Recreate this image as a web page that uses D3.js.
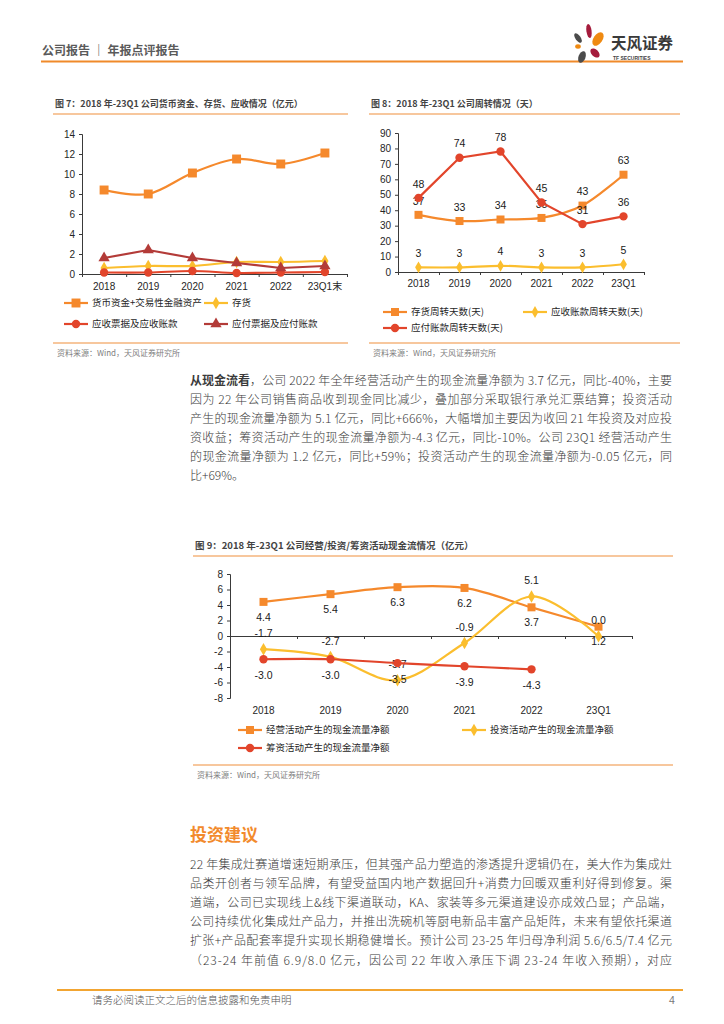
<!DOCTYPE html>
<html>
<head>
<meta charset="utf-8">
<script src="https://cdn.jsdelivr.net/npm/d3@7"></script>
<style>
body { margin: 0; background: #fff; }
svg { display: block; font-family: "Liberation Sans", Arial, "Noto Sans CJK SC", sans-serif; }
.cn { font-family: "Noto Sans CJK SC", sans-serif; }
</style>
</head>
<body>
<svg id="page" width="724" height="1024"></svg>
<script>
// ---- data ----
const cats7 = ['2018', '2019', '2020', '2021', '2022', '23Q1末'];
const cash7 = [8.4, 8.0, 10.1, 11.5, 11.0, 12.1];
const inventory7 = [0.6, 0.8, 0.8, 1.2, 1.2, 1.3];
const receivable7 = [0.15, 0.15, 0.3, 0.1, 0.15, 0.2];
const payable7 = [1.6, 2.4, 1.6, 1.1, 0.6, 0.8];
const ticks7 = [0, 2, 4, 6, 8, 10, 12, 14];

const cats8 = ['2018', '2019', '2020', '2021', '2022', '23Q1'];
const invDays8 = [37, 33, 34, 35, 43, 63];
const recDays8 = [3, 3, 4, 3, 3, 5];
const payDays8 = [48, 74, 78, 45, 31, 36];
const ticks8 = [0, 10, 20, 30, 40, 50, 60, 70, 80, 90];

const cats9 = ['2018', '2019', '2020', '2021', '2022', '23Q1'];
const opCash9 = [4.4, 5.4, 6.3, 6.2, 3.7, 1.2];
const invCash9 = [-1.7, -2.7, -5.7, -0.9, 5.1, -0.04];
const finCash9 = [-3.0, -3.0, -3.5, -3.9, -4.3, null];
const ticks9 = [-8, -6, -4, -2, 0, 2, 4, 6, 8];

const para1Lead = '从现金流看';
const para1 = [
  '，公司 2022 年全年经营活动产生的现金流量净额为 3.7 亿元，同比-40%，主要',
  '因为 22 年公司销售商品收到现金同比减少，叠加部分采取银行承兑汇票结算；投资活动',
  '产生的现金流量净额为 5.1 亿元，同比+666%，大幅增加主要因为收回 21 年投资及对应投',
  '资收益；筹资活动产生的现金流量净额为-4.3 亿元，同比-10%。公司 23Q1 经营活动产生',
  '的现金流量净额为 1.2 亿元，同比+59%；投资活动产生的现金流量净额为-0.05 亿元，同',
  '比+69%。'
];
const para2 = [
  '22 年集成灶赛道增速短期承压，但其强产品力塑造的渗透提升逻辑仍在，美大作为集成灶',
  '品类开创者与领军品牌，有望受益国内地产数据回升+消费力回暖双重利好得到修复。渠',
  '道端，公司已实现线上&线下渠道联动，KA、家装等多元渠道建设亦成效凸显；产品端，',
  '公司持续优化集成灶产品力，并推出洗碗机等厨电新品丰富产品矩阵，未来有望依托渠道',
  '扩张+产品配套率提升实现长期稳健增长。预计公司 23-25 年归母净利润 5.6/6.5/7.4 亿元',
  '（23-24 年前值 6.9/8.0 亿元，因公司 22 年收入承压下调 23-24 年收入预期），对应'
];

const ORANGE = '#F5892C', YELLOW = '#FBBE2E', RED = '#E2452B', DARKRED = '#B33B38';
const locale = d3.formatLocale({decimal: '.', thousands: ',', grouping: [3], currency: ['', ''], minus: '-'});
const fmtInt = locale.format('d');
const fmt1 = locale.format('.1f');

const svg = d3.select('#page');
svg.append('rect').attr('width', 724).attr('height', 1024).attr('fill', '#fff');

// ---- page header ----
svg.append('text').attr('class', 'cn').attr('x', 42).attr('y', 55)
  .attr('font-size', 12).attr('font-weight', 'bold').attr('fill', '#5a5a5a')
  .text('公司报告 ｜ 年报点评报告');
svg.append('line').attr('x1', 41).attr('x2', 683).attr('y1', 61.5).attr('y2', 61.5)
  .attr('stroke', '#F08A2A').attr('stroke-width', 2.2);

const logo = svg.append('g');
[
  [589, 31, 2.6, 7, -8, '#A51C3C'],
  [578, 38, 2.6, 5.5, -35, '#4B4B4B'],
  [598, 39, 4.5, 7.5, 35, '#EF8A12'],
  [578, 46.5, 2.8, 2.2, 0, '#EF8A12'],
  [595, 53, 3.5, 5.5, -45, '#A51C3C'],
  [582, 57, 3.5, 6, 20, '#4B4B4B']
].forEach(p => {
  logo.append('ellipse').attr('rx', p[2]).attr('ry', p[3])
    .attr('transform', `translate(${p[0]},${p[1]}) rotate(${p[4]})`).attr('fill', p[5]);
});
logo.append('text').attr('class', 'cn').attr('x', 611).attr('y', 49)
  .attr('font-size', 15.5).attr('font-weight', 'bold').attr('fill', '#3a3a3a').text('天风证券');
logo.append('text').attr('x', 613).attr('y', 59.5)
  .attr('font-size', 5).attr('font-weight', 'bold').attr('fill', '#444').text('TF SECURITIES');

// ---- chart helper ----
function drawChart(o) {
  const g = svg.append('g');

  // title and frame rules
  g.append('text').attr('class', 'cn').attr('x', o.frame[0] + 2).attr('y', o.titleY)
    .attr('font-size', o.titleSize).attr('font-weight', 'bold').attr('fill', '#444').text(o.title);
  [o.titleY + 7, o.ruleBottom].forEach(yy => {
    g.append('line').attr('x1', o.frame[0]).attr('x2', o.frame[1]).attr('y1', yy).attr('y2', yy)
      .attr('stroke', '#F7C79D').attr('stroke-width', 2);
  });
  g.append('text').attr('class', 'cn').attr('x', o.frame[0] + 4).attr('y', o.ruleBottom + 13)
    .attr('font-size', 8).attr('fill', '#808080').text('资料来源：Wind，天风证券研究所');

  const x = d3.scaleBand().domain(o.cats).range([o.left, o.right]);
  const cx = c => x(c) + x.bandwidth() / 2;
  const y = d3.scaleLinear().domain(o.domain).range([o.bottom, o.top]);

  // y axis
  g.append('g').attr('transform', `translate(${o.left},0)`)
    .call(d3.axisLeft(y).tickValues(o.ticks).tickSize(3).tickPadding(4).tickFormat(fmtInt))
    .call(a => a.selectAll('text').attr('font-size', 10).attr('fill', '#262626'));

  // x axis line with boundary ticks
  const xb = d3.scaleLinear().domain([0, o.cats.length]).range([o.left, o.right]);
  g.append('g').attr('transform', `translate(0,${y(0)})`)
    .call(d3.axisBottom(xb).tickValues(d3.range(o.cats.length + 1)).tickSize(3).tickSizeOuter(0).tickFormat(''));

  // category labels
  g.append('g').attr('transform', `translate(0,${o.labelY})`)
    .call(d3.axisBottom(x).tickSize(0).tickPadding(0))
    .call(a => a.select('.domain').remove())
    .call(a => a.selectAll('text').attr('font-size', 10).attr('fill', '#262626')
      .attr('dy', '0.35em').attr('font-family', '"Liberation Sans", Arial, "Noto Sans CJK SC", sans-serif'));

  g.selectAll('.domain, .tick line').attr('stroke', '#3a3a3a');

  o.series.forEach(s => {
    const line = d3.line()
      .defined(d => d != null)
      .x((d, i) => cx(o.cats[i]))
      .y(d => y(d))
      .curve(s.smooth ? d3.curveCardinal.tension(0) : d3.curveLinear);
    g.append('path').datum(s.values).attr('d', line)
      .attr('fill', 'none').attr('stroke', s.color).attr('stroke-width', 2.2);

    const sym = d3.symbol().type(s.symbol).size(s.size);
    g.selectAll(null).data(s.values.map((v, i) => ({v, c: o.cats[i]})).filter(d => d.v != null))
      .enter().append('path')
      .attr('d', sym)
      .attr('transform', d => `translate(${cx(d.c)},${y(d.v)})`)
      .attr('fill', s.color);

    if (s.labelDy) {
      g.selectAll(null).data(s.values.map((v, i) => ({v, c: o.cats[i]})).filter(d => d.v != null))
        .enter().append('text')
        .attr('x', d => cx(d.c))
        .attr('y', d => y(d.v) + s.labelDy)
        .attr('dy', '0.35em')
        .attr('text-anchor', 'middle')
        .attr('font-size', 10.5)
        .attr('fill', '#1a1a1a')
        .text(d => s.fmt(d.v));
    }
  });

  // legend
  o.legend.forEach(l => {
    const s = o.series[l.i];
    g.append('line').attr('x1', l.x).attr('x2', l.x + 24).attr('y1', l.y).attr('y2', l.y)
      .attr('stroke', s.color).attr('stroke-width', 2.2);
    g.append('path').attr('d', d3.symbol().type(s.symbol).size(s.size)())
      .attr('transform', `translate(${l.x + 12},${l.y})`).attr('fill', s.color);
    g.append('text').attr('class', 'cn').attr('x', l.x + 28).attr('y', l.y)
      .attr('dy', '0.35em').attr('font-size', o.legendSize).attr('fill', '#262626').text(s.name);
  });
}

// ---- 图 7 ----
drawChart({
  title: '图 7：2018 年-23Q1 公司货币资金、存货、应收情况（亿元）', titleSize: 9,
  frame: [53, 348], titleY: 107, ruleBottom: 343,
  cats: cats7, domain: [0, 14], ticks: ticks7,
  left: 82, right: 347, top: 134, bottom: 274, labelY: 286,
  legendSize: 9.5,
  series: [
    {name: '货币资金+交易性金融资产', values: cash7, color: ORANGE, symbol: d3.symbolSquare, size: 80, smooth: true},
    {name: '存货', values: inventory7, color: YELLOW, symbol: d3.symbolDiamond, size: 45, smooth: true},
    {name: '应收票据及应收账款', values: receivable7, color: RED, symbol: d3.symbolCircle, size: 55, smooth: true},
    {name: '应付票据及应付账款', values: payable7, color: DARKRED, symbol: d3.symbolTriangle, size: 55, smooth: false}
  ],
  legend: [{i: 0, x: 64, y: 303}, {i: 1, x: 204, y: 303}, {i: 2, x: 64, y: 324}, {i: 3, x: 204, y: 324}]
});

// ---- 图 8 ----
drawChart({
  title: '图 8：2018 年-23Q1 公司周转情况（天）', titleSize: 9,
  frame: [369, 680], titleY: 107, ruleBottom: 343,
  cats: cats8, domain: [0, 90], ticks: ticks8,
  left: 398, right: 644, top: 133, bottom: 272, labelY: 283,
  legendSize: 9.5,
  series: [
    {name: '存货周转天数(天)', values: invDays8, color: ORANGE, symbol: d3.symbolSquare, size: 64, smooth: true, labelDy: -14, fmt: fmtInt},
    {name: '应收账款周转天数(天)', values: recDays8, color: YELLOW, symbol: d3.symbolDiamond, size: 40, smooth: true, labelDy: -14, fmt: fmtInt},
    {name: '应付账款周转天数(天)', values: payDays8, color: RED, symbol: d3.symbolCircle, size: 55, smooth: false, labelDy: -14, fmt: fmtInt}
  ],
  legend: [{i: 0, x: 383, y: 312}, {i: 1, x: 523, y: 312}, {i: 2, x: 383, y: 328}]
});

// ---- 图 9 ----
drawChart({
  title: '图 9：2018 年-23Q1 公司经营/投资/筹资活动现金流情况（亿元）', titleSize: 9.5,
  frame: [193, 673], titleY: 549, ruleBottom: 765,
  cats: cats9, domain: [-8, 8], ticks: ticks9,
  left: 230, right: 632, top: 574, bottom: 698, labelY: 710,
  legendSize: 9.5,
  series: [
    {name: '经营活动产生的现金流量净额', values: opCash9, color: ORANGE, symbol: d3.symbolSquare, size: 64, smooth: true, labelDy: 15, fmt: fmt1},
    {name: '投资活动产生的现金流量净额', values: invCash9, color: YELLOW, symbol: d3.symbolDiamond, size: 45, smooth: true, labelDy: -16, fmt: fmt1},
    {name: '筹资活动产生的现金流量净额', values: finCash9, color: RED, symbol: d3.symbolCircle, size: 55, smooth: true, labelDy: 16, fmt: fmt1}
  ],
  legend: [{i: 0, x: 238, y: 730}, {i: 1, x: 462, y: 730}, {i: 2, x: 238, y: 748}]
});

// ---- body text ----
const TXT_L = 190, TXT_W = 482;
const lead = svg.append('text').attr('class', 'cn').attr('x', TXT_L).attr('y', 384.5)
  .attr('font-size', 12).attr('font-weight', 'bold').attr('fill', '#3a3a3a').text(para1Lead);
const leadW = lead.node().getComputedTextLength();
para1.forEach((t, k) => {
  const el = svg.append('text').attr('class', 'cn')
    .attr('x', k === 0 ? TXT_L + leadW : TXT_L).attr('y', 384.5 + 19 * k)
    .attr('font-size', 12).attr('font-weight', 300).attr('fill', '#3a3a3a').text(t);
  if (k < para1.length - 1) {
    el.attr('textLength', k === 0 ? TXT_W - leadW : TXT_W).attr('lengthAdjust', 'spacing');
  }
});

svg.append('text').attr('class', 'cn').attr('x', TXT_L).attr('y', 841)
  .attr('font-size', 17).attr('font-weight', 'bold').attr('fill', '#F28A2C').text('投资建议');
para2.forEach((t, k) => {
  svg.append('text').attr('class', 'cn').attr('x', TXT_L).attr('y', 868.5 + 19.2 * k)
    .attr('font-size', 12).attr('font-weight', 300).attr('fill', '#3a3a3a')
    .attr('textLength', TXT_W).attr('lengthAdjust', 'spacing').text(t);
});

// ---- footer ----
svg.append('line').attr('x1', 57).attr('x2', 683).attr('y1', 990).attr('y2', 990)
  .attr('stroke', '#F2A531').attr('stroke-width', 1.8);
svg.append('text').attr('class', 'cn').attr('x', 92).attr('y', 1004)
  .attr('font-size', 10.5).attr('font-weight', 300).attr('fill', '#555').text('请务必阅读正文之后的信息披露和免责申明');
svg.append('text').attr('x', 669).attr('y', 1004)
  .attr('font-size', 10.5).attr('fill', '#777').text('4');
</script>
</body>
</html>
